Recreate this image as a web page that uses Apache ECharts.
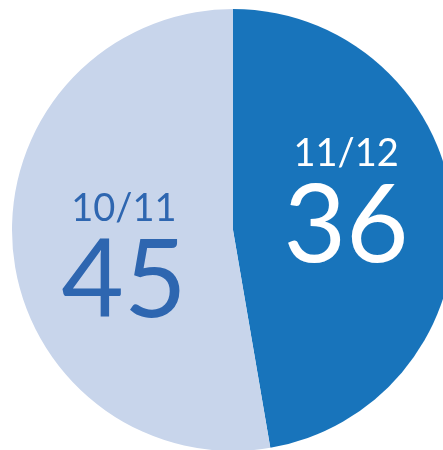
<!DOCTYPE html>
<html>
<head>
<meta charset="utf-8">
<script src="https://cdn.jsdelivr.net/npm/echarts@6/dist/echarts.min.js"></script>
<style>
  html, body { margin: 0; padding: 0; background: #fff; }
  #chart { width: 443px; height: 450px; }
</style>
</head>
<body>
<div id="chart"></div>
<script>
// 年度 / 数值
const seasons = ['11/12', '10/11'];
const values = [36, 45];
// slice share as it appears in the picture (%)
const shares = [47.3, 52.7];
const colors = ['#1874bb', '#c8d5eb'];
const textColors = ['#ffffff', '#2e66b0'];
// nudge labels to where they sit in the picture
const labelPads = [[0, 0, 30, 0], [42, 0, 0, 8]];

let myChart = echarts.init(document.getElementById('chart'));
let option = {
  animation: false,
  series: [
    {
      type: 'pie',
      center: [233, 230],
      radius: 221,
      startAngle: 90,
      clockwise: true,
      silent: true,
      label: {
        show: true,
        position: 'inside',
        fontFamily: 'Lato',
        formatter: p => '{a|' + seasons[p.dataIndex] + '}\n{b|' + values[p.dataIndex] + '}'
      },
      labelLine: { show: false },
      data: seasons.map((s, i) => ({
        name: s,
        value: shares[i],
        itemStyle: { color: colors[i] },
        label: {
          padding: labelPads[i],
          rich: {
            a: { fontSize: 38, color: textColors[i], fontFamily: 'Lato', lineHeight: 44, align: 'center' },
            b: { fontSize: 108, color: textColors[i], fontFamily: 'Lato', lineHeight: 104, align: 'center' }
          }
        }
      }))
    }
  ]
};
myChart.setOption(option);
</script>
</body>
</html>
